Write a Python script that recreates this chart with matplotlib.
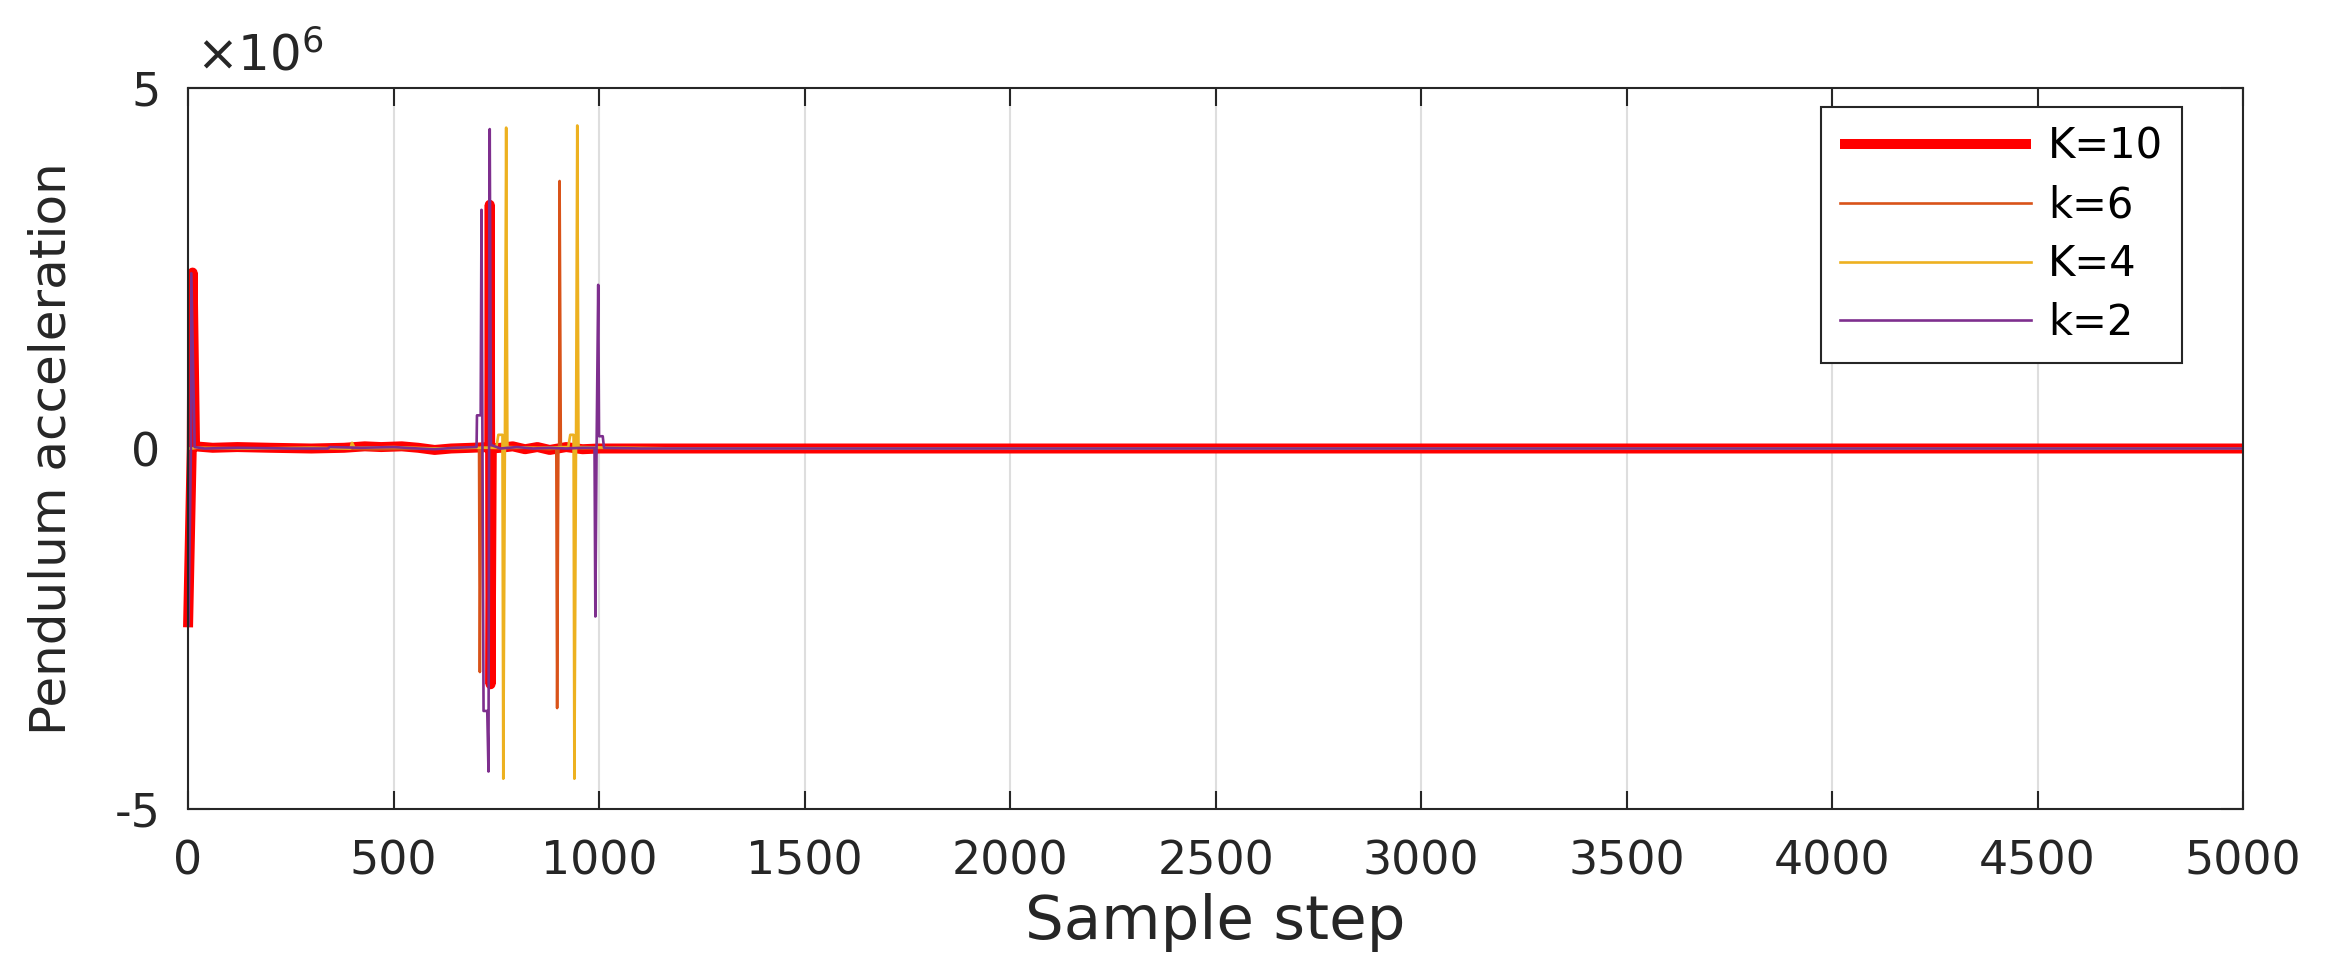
import matplotlib
matplotlib.use('Agg')
import matplotlib.pyplot as plt
import matplotlib.ticker as ticker

plt.rcParams['font.family'] = ['DejaVu Sans']
plt.rcParams['mathtext.fontset'] = 'dejavusans'
plt.rcParams['axes.unicode_minus'] = False

# series (sample step, pendulum acceleration)
k10_x = [0, 9, 11, 17, 60, 120, 200, 300, 380, 430, 470, 520, 560, 600, 640, 690,
         733, 734, 736, 739, 760, 790, 820, 850, 880, 920, 960, 1000, 1100, 1200, 5000]
k10_y = [-2.48e6, 0, 2.44e6, 0.03e6, 0.01e6, 0.02e6, 0.01e6, 0.0, 0.01e6, 0.03e6, 0.02e6,
         0.03e6, 0.01e6, -0.02e6, 0.0, 0.01e6,
         0.02e6, 3.38e6, -3.27e6, 0.0, 0.01e6, 0.03e6, -0.01e6, 0.02e6, -0.02e6, 0.02e6,
         -0.01e6, 0.0, 0.0, 0.0, 0.0]

k6_x = [0, 8, 20, 150, 300, 450, 600, 700, 708, 710, 713, 760, 820, 880, 896, 898, 901,
        903, 904, 907, 960, 1050, 1200, 5000]
k6_y = [0, 0, 0.01e6, 0.0, 0.01e6, -0.01e6, 0.0, 0.01e6, 0.0, -3.1e6, 0.02e6, 0.0, 0.01e6,
        -0.01e6, 0.0, -3.6e6, 0.0, 0.0, 3.71e6, 0.02e6, 0.0, 0.01e6, 0.0, 0.0]

k4_x = [0, 8, 20, 150, 300, 395, 399, 405, 500, 600, 700, 750, 755, 765, 767, 771, 774,
        777, 850, 925, 930, 938, 940, 944, 947, 950, 1050, 1200, 5000]
k4_y = [0, 0, 0.01e6, 0.0, 0.01e6, 0.0, 0.08e6, 0.01e6, 0.02e6, 0.0, 0.01e6, 0.01e6,
        0.19e6, 0.19e6, -4.58e6, 0.15e6, 4.45e6, 0.02e6, 0.01e6, 0.02e6, 0.19e6, 0.19e6,
        -4.58e6, 0.1e6, 4.48e6, 0.02e6, 0.01e6, 0.0, 0.0]

k2_x = [1, 7, 8, 16, 40, 120, 250, 340, 345, 420, 500, 560, 600, 650, 700, 702, 703, 712,
        714, 719, 728, 731, 734, 737, 760, 800, 840, 880, 920, 960, 989, 991, 994, 998, 1000,
        1009, 1012, 1100, 1200, 5000]
k2_y = [-2.45e6, 0, 2.43e6, 0.02e6, 0.0, 0.01e6, 0.0, 0.0, 0.02e6, 0.01e6, 0.02e6,
        0.0, -0.01e6, 0.01e6, 0.02e6, 0.02e6, 0.46e6, 0.46e6, 3.31e6, -3.64e6, -3.64e6, -4.48e6,
        4.43e6, 0.05e6, 0.0, 0.02e6, 0.0, 0.01e6, 0.0, 0.01e6, 0.01e6, -2.33e6, 0.0, 2.27e6,
        0.17e6, 0.17e6, 0.01e6, 0.0, 0.0, 0.0]

labels = ['K=10', 'k=6', 'K=4', 'k=2']
colors = ['#FF0000', '#D95319', '#EDB120', '#7E2F8E']
text_color = '#262626'

fig = plt.figure(figsize=(23.36, 9.69), dpi=100)
ax = fig.add_axes([0.0805, 0.1651, 0.8797, 0.7441])

# thick line hangs over the left edge a bit, like the original
ax.plot(k10_x, k10_y, color=colors[0], lw=7.2, label=labels[0], clip_on=False,
        solid_capstyle='butt', solid_joinstyle='round')
ax.plot(k6_x, k6_y, color=colors[1], lw=1.9, label=labels[1])
ax.plot(k4_x, k4_y, color=colors[2], lw=1.9, label=labels[2])
ax.plot(k2_x, k2_y, color=colors[3], lw=1.9, label=labels[3])

ax.set_xlim(0, 5000)
ax.set_ylim(-5e6, 5e6)
ax.set_xticks(range(0, 5001, 500))
ax.set_yticks([-5e6, 0, 5e6])
ax.yaxis.set_major_formatter(ticker.FuncFormatter(lambda v, p: '%g' % (v / 1e6)))
ax.text(0.004, 1.01, r'$\times\mathregular{10^{6}}$', transform=ax.transAxes,
        fontsize=36, color=text_color, ha='left', va='bottom')

ax.grid(axis='x', color='#dedede', lw=1.5)
ax.set_axisbelow(True)

for s in ax.spines.values():
    s.set_color(text_color)
    s.set_linewidth(1.5)
ax.tick_params(axis='x', direction='in', length=13, width=1.5, top=True,
               labelsize=33, pad=22, colors=text_color)
ax.tick_params(axis='y', direction='in', length=16, width=1.5, right=True,
               labelsize=33, pad=20, colors=text_color)

ax.set_xlabel('Sample step', fontsize=44, color=text_color, labelpad=6)
ax.set_ylabel('Pendulum acceleration', fontsize=36, color=text_color, labelpad=28)

leg = ax.legend(loc='upper right', bbox_to_anchor=(0.9703, 0.9736), borderaxespad=0,
                fontsize=30, handlelength=4.6, handletextpad=0.4, labelspacing=0.4,
                borderpad=0.45, fancybox=False, framealpha=1)
leg.get_frame().set_edgecolor(text_color)
leg.get_frame().set_linewidth(1.5)

fig.savefig('out.png', dpi=100)
